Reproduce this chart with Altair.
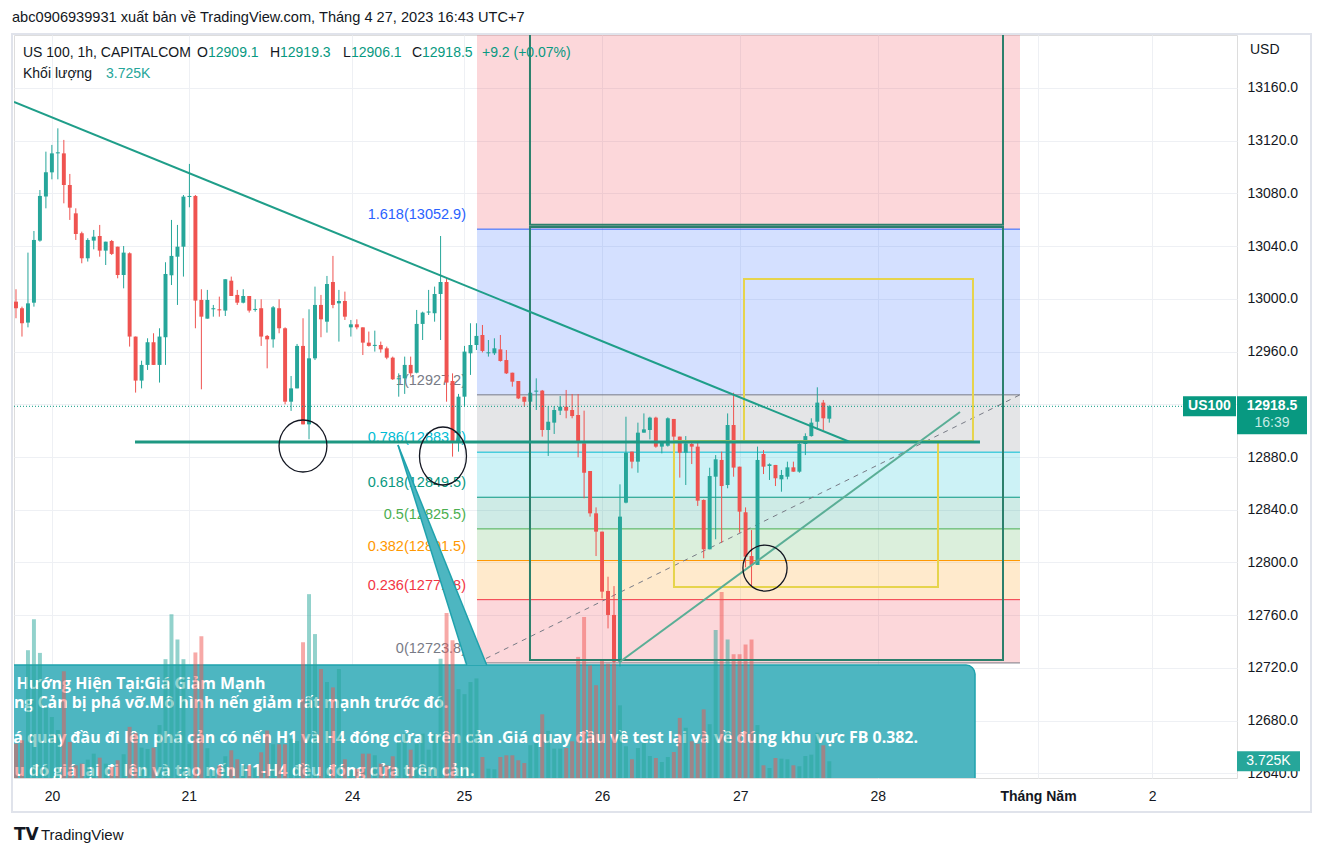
import altair as alt
import pandas as pd

# ---------------- data ----------------
OPEN = [
    12997.9, 12992.9, 12982.0, 12997.1, 13044.2, 13077.6, 13096.0, 13110.4, 13110.4, 13086.4,
    13064.9, 13049.8, 13030.8, 13044.2, 13047.7, 13036.6, 13043.9, 13039.6, 13018.1, 13034.6,
    12971.4, 12938.0, 12949.9, 12967.1, 12949.9, 12970.9, 13017.9, 13032.0, 13039.6, 13077.3,
    13078.1, 12999.2, 12985.0, 12992.1, 12992.1, 12991.1, 13013.8, 13003.0, 12997.1, 13002.2,
    12991.6, 12992.9, 12971.9, 12969.3, 12992.9, 12977.7, 12922.0, 12932.1, 12964.3, 12904.8,
    12954.9, 12995.4, 12982.7, 13012.8, 12996.6, 12998.4, 12978.4, 12980.7, 12978.4, 12966.8,
    12964.3, 12965.0, 12962.5, 12955.4, 12939.0, 12939.7, 12949.9, 12944.0, 12981.0, 12989.6,
    12989.1, 13003.7, 13012.8, 12937.7, 12890.9, 12925.8, 12958.7, 12965.0, 12972.6, 12958.7,
    12958.7, 12961.7, 12953.6, 12944.0, 12937.7, 12925.8, 12922.0, 12929.6, 12930.4, 12900.5,
    12906.1, 12915.2, 12918.2, 12915.7, 12911.9, 12890.4, 12869.4, 12837.3, 12823.4, 12778.4,
    12760.2, 12724.8, 12845.4, 12884.1, 12876.5, 12898.5, 12900.5, 12909.9, 12887.9, 12888.6,
    12908.9, 12895.5, 12883.3, 12889.9, 12887.9, 12847.4, 12810.0, 12865.1, 12877.8, 12858.8,
    12904.3, 12872.7, 12838.1, 12804.9, 12798.1, 12882.3, 12873.2, 12874.0, 12863.1, 12865.1,
    12872.2, 12868.9, 12889.9, 12895.9, 12906.8, 12921.3, 12909.1]
HIGH = [
    13007.3, 12994.1, 13035.1, 13051.5, 13082.6, 13111.7, 13116.8, 13129.4, 13120.6, 13094.8,
    13068.7, 13051.0, 13046.0, 13052.3, 13056.1, 13043.4, 13044.7, 13039.6, 13040.1, 13035.3,
    12971.4, 12953.1, 12970.1, 12973.9, 12977.7, 13027.8, 13059.9, 13056.1, 13078.8, 13102.4,
    13078.8, 13007.3, 13006.8, 12995.4, 13001.7, 13014.9, 13016.9, 13006.8, 13007.3, 13002.2,
    12999.7, 12999.7, 12972.6, 12994.6, 12999.7, 12978.4, 12941.5, 12965.8, 12985.3, 12992.1,
    13009.3, 13003.0, 13017.4, 13032.6, 13006.8, 13005.5, 12984.0, 12984.5, 12978.4, 12975.2,
    12975.9, 12967.6, 12963.8, 12956.2, 12943.5, 12956.2, 12956.2, 12991.6, 12990.3, 13006.8,
    13009.3, 13047.7, 13015.6, 12943.5, 12927.9, 12964.3, 12981.5, 12981.5, 12980.2, 12968.8,
    12970.1, 12972.6, 12961.2, 12944.0, 12937.7, 12925.8, 12929.6, 12939.7, 12930.9, 12918.7,
    12918.7, 12926.3, 12930.9, 12927.8, 12927.8, 12915.2, 12869.4, 12841.8, 12823.4, 12789.2,
    12782.1, 12859.3, 12910.6, 12884.1, 12906.1, 12913.1, 12910.6, 12910.6, 12891.7, 12910.1,
    12908.9, 12895.5, 12895.9, 12892.9, 12891.7, 12847.9, 12871.9, 12881.5, 12884.1, 12913.1,
    12928.8, 12872.7, 12841.8, 12824.6, 12887.9, 12885.3, 12875.2, 12874.0, 12870.2, 12876.5,
    12876.5, 12891.7, 12898.0, 12909.4, 12932.9, 12923.3, 12919.3]
LOW = [
    12985.3, 12971.4, 12978.4, 12994.1, 13043.4, 13068.7, 13090.7, 13090.7, 13072.5, 13059.9,
    13044.7, 13027.0, 13028.3, 13037.6, 13032.0, 13025.7, 13033.3, 13015.6, 13008.0, 12963.8,
    12928.9, 12932.1, 12946.1, 12949.9, 12936.5, 12949.9, 13010.5, 12995.4, 13016.9, 13069.5,
    12977.7, 12931.4, 12985.0, 12986.5, 12986.5, 12987.0, 13002.2, 12995.4, 12996.6, 12989.6,
    12990.3, 12964.3, 12947.3, 12963.0, 12973.9, 12920.0, 12915.0, 12932.1, 12904.8, 12893.5,
    12953.6, 12970.9, 12974.4, 12992.9, 12967.6, 12984.0, 12971.4, 12976.9, 12957.4, 12963.8,
    12960.0, 12959.2, 12954.2, 12938.5, 12925.8, 12927.9, 12941.5, 12943.5, 12968.8, 12987.8,
    12982.7, 12968.8, 12922.0, 12880.3, 12884.1, 12918.2, 12942.3, 12961.2, 12959.4, 12956.2,
    12957.4, 12952.4, 12943.0, 12933.4, 12924.0, 12918.2, 12918.2, 12915.7, 12895.5, 12880.8,
    12897.5, 12911.9, 12909.4, 12909.4, 12879.8, 12848.7, 12834.8, 12804.9, 12772.8, 12750.0,
    12723.5, 12721.0, 12844.9, 12871.4, 12868.1, 12898.5, 12893.4, 12887.1, 12882.8, 12887.9,
    12885.3, 12864.4, 12858.8, 12874.7, 12842.9, 12803.2, 12810.0, 12817.6, 12815.0, 12856.3,
    12865.1, 12822.6, 12796.3, 12781.6, 12798.1, 12867.1, 12862.6, 12858.0, 12853.7, 12863.1,
    12868.9, 12868.1, 12881.5, 12895.5, 12901.0, 12900.5, 12906.1]
CLOSE = [
    12992.9, 12981.5, 12996.6, 13044.7, 13078.1, 13096.0, 13110.4, 13111.2, 13086.4, 13069.2,
    13049.2, 13030.8, 13044.7, 13047.2, 13036.6, 13043.4, 13034.1, 13018.1, 13035.1, 12971.4,
    12938.0, 12949.9, 12967.1, 12949.9, 12971.4, 13018.9, 13032.6, 13039.6, 13077.6, 13078.1,
    12998.7, 12986.5, 12999.2, 12992.9, 12991.3, 13014.9, 13002.2, 12997.1, 13002.2, 12991.1,
    12992.4, 12971.4, 12969.3, 12993.6, 12977.7, 12922.0, 12932.1, 12964.3, 12904.8, 12954.9,
    12995.4, 12984.5, 13011.3, 12995.4, 12998.4, 12986.5, 12980.7, 12978.4, 12966.8, 12964.3,
    12965.1, 12961.7, 12955.4, 12939.0, 12939.8, 12949.9, 12943.5, 12981.0, 12989.6, 12990.4,
    13003.7, 13012.8, 12936.5, 12890.9, 12925.8, 12960.0, 12965.0, 12971.9, 12960.5, 12959.5,
    12962.5, 12952.9, 12943.5, 12937.2, 12924.5, 12922.0, 12928.8, 12930.4, 12900.5, 12906.8,
    12915.7, 12918.2, 12915.2, 12911.1, 12891.6, 12868.1, 12837.3, 12823.4, 12777.9, 12760.2,
    12724.8, 12834.8, 12883.3, 12876.5, 12898.5, 12901.0, 12909.9, 12887.9, 12890.9, 12909.4,
    12895.5, 12883.3, 12890.4, 12887.9, 12846.9, 12810.0, 12865.6, 12878.3, 12858.0, 12904.3,
    12872.0, 12838.6, 12804.4, 12798.1, 12877.8, 12872.7, 12874.5, 12863.9, 12866.4, 12872.2,
    12868.9, 12889.9, 12895.9, 12906.1, 12921.3, 12909.4, 12918.5]
VOLUME_K = [
    7.65, 8.41, 28.5, 35.4, 27.9, 15.8, 13.6, 10.7, 23.8, 8.03,
    2.83, 3.19, 4.08, 5.42, 4.53, 3.19, 2.45, 3.95, 5.29, 11.4,
    10.0, 6.76, 6.47, 6.76, 11.8, 26.5, 36.5, 30.9, 26.5, 7.59,
    28.0, 31.6, 6.63, 1.72, 2.83, 4.84, 6.18, 4.17, 2.83, 2.83,
    2.45, 5.73, 10.6, 7.52, 7.52, 7.52, 8.77, 8.25, 30.3, 41.0,
    32.1, 24.3, 21.4, 20.2, 24.3, 4.17, 1.72, 2.07, 5.42, 5.42,
    5.06, 3.19, 2.83, 4.84, 8.03, 9.88, 6.31, 7.65, 9.88, 6.31,
    9.88, 26.6, 36.8, 30.7, 19.8, 18.7, 21.4, 22.2, 4.69, 2.07,
    1.94, 4.69, 5.06, 5.06, 3.95, 3.35, 7.30, 7.81, 14.2, 10.5,
    6.54, 6.54, 6.69, 8.19, 27.0, 35.9, 25.1, 20.7, 26.3, 25.5,
    25.5, 16.2, 7.07, 4.17, 6.69, 7.81, 4.91, 4.46, 3.57, 4.69,
    5.80, 13.4, 11.2, 8.19, 7.65, 15.3, 12.0, 33.0, 41.5, 30.9,
    27.6, 27.6, 29.8, 30.9, 11.8, 2.83, 2.23, 4.46, 4.31, 4.17,
    2.83, 2.61, 4.91, 5.20, 10.1, 7.30, 3.725]

X_TICK_POS = [6.02, 28.9, 56.2, 74.9, 98.0, 121.1, 144.1, 170.9, 190.0]
X_TICK_LABELS = ["20", "21", "24", "25", "26", "27", "28", "Tháng Năm", "2"]
Y_TICKS = [12640, 12680, 12720, 12760, 12800, 12840, 12880, 12920, 12960,
           13000, 13040, 13080, 13120, 13160]

FIB_RATIOS = [0, 0.236, 0.382, 0.5, 0.618, 0.786, 1, 1.618, 2.618]
FIB_PRICES = [12723.8, 12771.8, 12801.5, 12825.5, 12849.5, 12883.7, 12927.2, 13052.9, 13256.3]
FIB_COLORS = ["#787b86", "#f23645", "#ff9800", "#4caf50", "#089981", "#00bcd4",
              "#787b86", "#2962ff", "#f23645"]
FIB_X = [77.09, 167.89]

TREND_DOWN_X = [-0.334, 139.46]
TREND_DOWN_P = [13149.4, 12891.4]
TREND_UP_X = [101.0, 157.86]
TREND_UP_P = [12724.7, 12914.2]
SUPPORT_X = [19.9, 161.2]
SUPPORT_P = 12891.4
GREEN_BOX_X = [85.95, 165.05]
GREEN_BOX_P = [(12726.0, 13054.5), (13056.3, 13240.0)]
YELLOW_BOXES = [(121.74, 160.03, 12892.2, 13015.1), (110.03, 154.18, 12781.4, 12892.2)]
CIRCLE_X = [47.99, 71.4, 125.25]
CIRCLE_P = [12888.4, 12880.8, 12795.8]
CIRCLE_SIZE = [2704, 3364, 2116]
CIRCLE_RATIO = [0.92, 0.81, 0.96]

CALLOUT_X = [-10.0, 160.37]
CALLOUT_P = [12560.0, 12722.2]
BEAK_X = [63.88, 75.37, 78.71]
BEAK_TOP = [12889.1, 12759.8, 12722.2]
BEAK_BOT = [12889.1, 12722.2, 12722.2]
# visible parts of the callout text (its left side lies beyond the chart's edge)
CALLOUT_LINES = [
    "Hướng Hiện Tại:Giá Giảm Mạnh",
    "ng Cản bị phá vỡ.Mô hình nến giảm rất mạnh trước đó.",
    "á quay đầu đi lên phá cản có nến H1 và H4 đóng cửa trên cản .Giá quay đầu về test lại và về đúng khu vực FB 0.382.",
    "u đó giá lại đi lên và tạo nến H1-H4 đều đóng cửa trên cản.",
]
CALLOUT_TEXT_X = [0.1, -0.35, -0.45, -0.3]
CALLOUT_DY = [19, 38, 73, 106]

# ---------------- styling ----------------
FONT = "Liberation Sans"
INK = "#131722"
UP, DOWN = "#089981", "#f23645"
GRID = "#eef0f4"
W, H = 1223, 743
XS = alt.Scale(domain=[-0.334, 204.18], nice=False, zero=False)
YS = alt.Scale(domain=[12636.5, 13200.2], nice=False, zero=False)
VS = alt.Scale(domain=[0, 165.7], nice=False, zero=False)

label_expr = " : ".join(f"datum.value == {p} ? '{l}'" for p, l in zip(X_TICK_POS, X_TICK_LABELS)) + " : ''"
x_axis = alt.Axis(values=X_TICK_POS, labelExpr=label_expr, title=None, domain=False, ticks=False,
                  grid=True, gridColor=GRID, labelPadding=11, labelFont=FONT, labelFontSize=14,
                  labelColor=INK, labelOverlap=False, labelFlush=False, labelBound=False,
                  labelFontWeight={"expr": f"datum.value == {X_TICK_POS[7]} ? 'bold' : 'normal'"})
y_axis = alt.Axis(orient="right", values=Y_TICKS, format=".1f", title=None, domain=False, ticks=False,
                  grid=True, gridColor=GRID, labelPadding=10, labelFont=FONT, labelFontSize=14,
                  labelColor=INK, labelOverlap=False, labelFlush=False, labelBound=False)


def xq(f):
    return alt.X(f"{f}:Q", scale=XS, axis=x_axis)


def yb(f):  # price axis (background layer carries the visible axis)
    return alt.Y(f"{f}:Q", scale=YS, axis=y_axis)


def yq(f):
    return alt.Y(f"{f}:Q", scale=YS, axis=None)


# ---------------- tables ----------------
n = len(OPEN)
cd = pd.DataFrame({"i": list(range(n)), "o": OPEN, "h": HIGH, "l": LOW, "c": CLOSE, "v": VOLUME_K})
cd["dir"] = ["up" if c >= o else "down" for o, c in zip(OPEN, CLOSE)]
cd["x1"] = cd["i"] - 0.33
cd["x2"] = cd["i"] + 0.33
cd["bt"] = cd[["o", "c"]].max(axis=1)
cd["bb"] = cd[["o", "c"]].min(axis=1)
cd["z"] = 0.0
dir_color = alt.Color("dir:N", scale=alt.Scale(domain=["up", "down"], range=[UP, DOWN]), legend=None)
vol_color = alt.Color("dir:N", scale=alt.Scale(domain=["up", "down"], range=["#26a69a", "#ef5350"]), legend=None)

fz = pd.DataFrame({"x1": [FIB_X[0]] * 8, "x2": [FIB_X[1]] * 8, "lo": FIB_PRICES[:-1],
                   "hi": FIB_PRICES[1:], "col": FIB_COLORS[1:]})
fl = pd.DataFrame({"x1": [FIB_X[0]] * 9, "x2": [FIB_X[1]] * 9, "p": FIB_PRICES, "col": FIB_COLORS,
                   "lab": [f"{r:g}({p:.1f})" for r, p in zip(FIB_RATIOS, FIB_PRICES)]})
fl_vis = fl[fl["p"] < 13190].copy()   # labels of the levels inside the view

# ---------------- background: fib ----------------
fib_zones = alt.Chart(fz).mark_rect(opacity=0.2, clip=True).encode(
    x=xq("x1"), x2="x2:Q", y=yb("lo"), y2="hi:Q", color=alt.Color("col:N", scale=None))
fib_lines = alt.Chart(fl).mark_rule(strokeWidth=1, clip=True).encode(
    x=xq("x1"), x2="x2:Q", y=yb("p"), color=alt.Color("col:N", scale=None))
fib_labels = alt.Chart(fl_vis).mark_text(align="right", baseline="middle", dx=-11, dy=-14, fontSize=14.5,
                                         font=FONT).encode(
    x=xq("x1"), y=yb("p"), text="lab:N", color=alt.Color("col:N", scale=None))
diag = alt.Chart(pd.DataFrame({"x": FIB_X, "p": [FIB_PRICES[0], FIB_PRICES[6]]})).mark_line(
    strokeDash=[5, 5], color="#787b86", strokeWidth=1, clip=True).encode(x=xq("x"), y=yb("p"))
bg = alt.layer(fib_zones, fib_lines, diag, fib_labels)

# ---------------- callout ----------------
box = alt.Chart(pd.DataFrame({"x1": [CALLOUT_X[0]], "x2": [CALLOUT_X[1]], "p1": [CALLOUT_P[0]],
                              "p2": [CALLOUT_P[1]]})).mark_rect(
    fill="#4db6c1", stroke="#1fa2ad", strokeWidth=1.5, cornerRadiusTopRight=9, clip=True).encode(
    x=xq("x1"), x2="x2:Q", y=yq("p1"), y2="p2:Q")
beak = alt.Chart(pd.DataFrame({"x": BEAK_X, "t": BEAK_TOP, "b": BEAK_BOT})).mark_area(
    color="#4db6c1", opacity=1, clip=True).encode(x=xq("x"), y=yq("t"), y2="b:Q")
beak_edges = alt.Chart(pd.DataFrame({"x1": [BEAK_X[0], BEAK_X[0]], "x2": [BEAK_X[1], BEAK_X[2]],
                                     "p1": [BEAK_TOP[0], BEAK_TOP[0]], "p2": [BEAK_BOT[1], BEAK_BOT[2]]})
                       ).mark_rule(color="#1fa2ad", strokeWidth=1.5, clip=True).encode(
    x=xq("x1"), x2="x2:Q", y=yq("p1"), y2="p2:Q")
callout_texts = []
for line, dy, tx in zip(CALLOUT_LINES, CALLOUT_DY, CALLOUT_TEXT_X):
    callout_texts.append(
        alt.Chart(pd.DataFrame({"x": [tx], "p": [CALLOUT_P[1]], "t": [line]})).mark_text(
            align="left", baseline="middle", dy=dy, font="Open Sans", fontWeight="bold", fontSize=15.9,
            color="white").encode(x=xq("x"), y=yq("p"), text="t:N"))
callout = alt.layer(box, beak, beak_edges, *callout_texts)

# ---------------- volume ----------------
RECT_PATH = "M-1,-{h}H1V{h}H-1Z"
vol_bars = alt.Chart(cd).mark_rect(opacity=0.5, clip=True).encode(
    x=xq("x1"), x2="x2:Q", y=alt.Y("v:Q", scale=VS, axis=None), y2="z:Q", color=vol_color)
last_vol = pd.DataFrame({"v": [VOLUME_K[-1]], "t": [f"{VOLUME_K[-1]:.3f}K"]})
vol_badge = alt.Chart(last_vol).mark_point(shape=RECT_PATH.format(h=0.317), size=3969, filled=True,
                                           fill="#26a69a", opacity=1, strokeWidth=0).encode(
    x=alt.value(1254.5), y=alt.Y("v:Q", scale=VS, axis=None))
vol_badge_t = alt.Chart(last_vol).mark_text(fontSize=14, font=FONT, color="white").encode(
    x=alt.value(1254.5), y=alt.Y("v:Q", scale=VS, axis=None), text="t:N")
vol = alt.layer(vol_bars, vol_badge, vol_badge_t)

# ---------------- candles + drawings ----------------
wicks = alt.Chart(cd).mark_rule(strokeWidth=1, clip=True).encode(
    x=xq("i"), y=yq("l"), y2="h:Q", color=dir_color)
bodies = alt.Chart(cd).mark_rect(clip=True).encode(
    x=xq("x1"), x2="x2:Q", y=yq("bb"), y2="bt:Q", color=dir_color)

gb = pd.DataFrame({"x1": [GREEN_BOX_X[0]] * 2, "x2": [GREEN_BOX_X[1]] * 2,
                   "p1": [a for a, b in GREEN_BOX_P], "p2": [b for a, b in GREEN_BOX_P]})
green_boxes = alt.Chart(gb).mark_rect(fillOpacity=0, stroke="#2b806c", strokeWidth=2, clip=True).encode(
    x=xq("x1"), x2="x2:Q", y=yq("p1"), y2="p2:Q")
ybx = pd.DataFrame(YELLOW_BOXES, columns=["x1", "x2", "p1", "p2"])
yellow_boxes = alt.Chart(ybx).mark_rect(fillOpacity=0, stroke="#e6d44c", strokeWidth=2, clip=True).encode(
    x=xq("x1"), x2="x2:Q", y=yq("p1"), y2="p2:Q")
support = alt.Chart(pd.DataFrame({"x1": [SUPPORT_X[0]], "x2": [SUPPORT_X[1]], "p": [SUPPORT_P]})).mark_rule(
    strokeWidth=3, color="#1e9882", clip=True).encode(x=xq("x1"), x2="x2:Q", y=yq("p"))
tdown = alt.Chart(pd.DataFrame({"x1": [TREND_DOWN_X[0]], "x2": [TREND_DOWN_X[1]], "p1": [TREND_DOWN_P[0]],
                                "p2": [TREND_DOWN_P[1]]})).mark_rule(
    strokeWidth=2, color="#1f9e89", clip=True).encode(x=xq("x1"), x2="x2:Q", y=yq("p1"), y2="p2:Q")
tup = alt.Chart(pd.DataFrame({"x1": [TREND_UP_X[0]], "x2": [TREND_UP_X[1]], "p1": [TREND_UP_P[0]],
                              "p2": [TREND_UP_P[1]]})).mark_rule(
    strokeWidth=2, color="#5aae96", clip=True).encode(x=xq("x1"), x2="x2:Q", y=yq("p1"), y2="p2:Q")
circ = pd.DataFrame({"x": CIRCLE_X, "p": CIRCLE_P, "s": CIRCLE_SIZE,
                     "shape": [f"M{-r},0A{r},1 0 1,0 {r},0A{r},1 0 1,0 {-r},0Z" for r in CIRCLE_RATIO]})
circles = alt.Chart(circ).mark_point(filled=False, stroke="#131722", strokeWidth=1.3, opacity=1).encode(
    x=xq("x"), y=yq("p"), size=alt.Size("s:Q", scale=None), shape=alt.Shape("shape:N", scale=None))

last = pd.DataFrame({"p": [CLOSE[-1]], "t": [f"{CLOSE[-1]:.1f}"], "tm": ["16:39"], "n": ["US100"]})
last_line = alt.Chart(last).mark_rule(strokeDash=[1, 2], color=UP, strokeWidth=1).encode(
    y=yq("p"), x=alt.value(0), x2=alt.value(1169))
sym_badge = alt.Chart(last).mark_point(shape=RECT_PATH.format(h=0.377), size=2809, filled=True,
                                       fill=UP, opacity=1, strokeWidth=0).encode(
    x=alt.value(1195.5), y=yq("p"))
sym_text = alt.Chart(last).mark_text(fontSize=14, font=FONT, fontWeight="bold", color="white").encode(
    x=alt.value(1195.5), y=yq("p"), text="n:N")
price_badge = alt.Chart(last).mark_point(shape=RECT_PATH.format(h=0.543), size=4900, filled=True,
                                         fill=UP, opacity=1, strokeWidth=0, yOffset=9).encode(
    x=alt.value(1258), y=yq("p"))
price_text = alt.Chart(last).mark_text(fontSize=14, font=FONT, fontWeight="bold", color="white").encode(
    x=alt.value(1258), y=yq("p"), text="t:N")
time_text = alt.Chart(last).mark_text(fontSize=14, font=FONT, color="#c4ebe4", dy=17).encode(
    x=alt.value(1258), y=yq("p"), text="tm:N")

fg = alt.layer(wicks, bodies, green_boxes, yellow_boxes, support, tdown, tup, circles,
               last_line, sym_badge, sym_text, price_badge, price_text, time_text)


# ---------------- chrome texts ----------------
def txt(s, x, y, size=14, color=INK, weight="normal", font=FONT, align="left"):
    return alt.Chart(pd.DataFrame({"t": [s]})).mark_text(
        align=align, baseline="middle", fontSize=size, font=font, fontWeight=weight, color=color).encode(
        x=alt.value(x), y=alt.value(y), text="t:N")


frame = alt.Chart(pd.DataFrame({"a": [0]})).mark_rect(fillOpacity=0, stroke="#e0e3eb", strokeWidth=2).encode(
    x=alt.value(-2), x2=alt.value(1297), y=alt.value(-1), y2=alt.value(777))
chrome = [
    frame,
    txt("abc0906939931 xuất bản về TradingView.com, Tháng 4 27, 2023 16:43 UTC+7", -2, -17, size=14.6),
    txt("US 100, 1h, CAPITALCOM", 9, 18),
    txt("O", 183, 18), txt("12909.1", 194, 18, color=UP),
    txt("H", 256, 18), txt("12919.3", 266, 18, color=UP),
    txt("L", 329, 18), txt("12906.1", 337, 18, color=UP),
    txt("C", 398, 18), txt("12918.5", 408, 18, color=UP),
    txt("+9.2 (+0.07%)", 468, 18, color=UP),
    txt("Khối lượng", 9, 39), txt("3.725K", 92, 39, color="#26a69a"),
    txt("USD", 1236, 15),
    txt("TV", 0, 800, size=17, weight="bold", font="DejaVu Sans"),
    txt("TradingView", 27, 800, size=15),
]

chart = alt.layer(bg, callout, vol, fg, *chrome).resolve_scale(y="independent").properties(
    width=W, height=H, autosize=alt.AutoSizeParams(type="none"),
    padding={"left": 14, "top": 35, "right": 88, "bottom": 79},
).configure_view(stroke=None).configure(background="white")

chart.save("out.html", embed_options={"renderer": "svg", "actions": False})
